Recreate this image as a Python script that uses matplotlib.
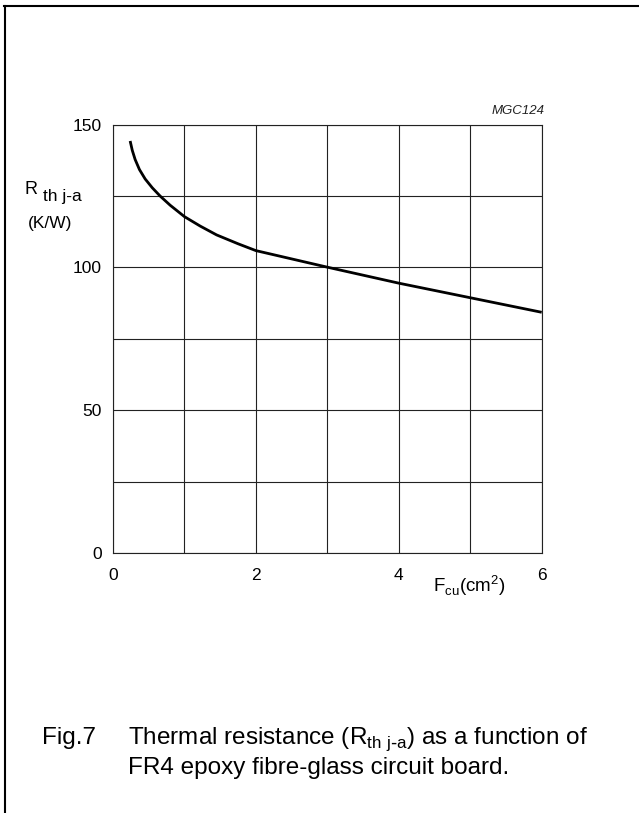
import matplotlib.pyplot as plt
from matplotlib.lines import Line2D

plt.rcParams['font.family'] = ['Liberation Sans', 'DejaVu Sans']

# curve
area_cm2 = [0.24, 0.27, 0.31, 0.37, 0.45, 0.55, 0.66, 0.8, 1.0, 1.22, 1.45, 1.75, 2.0, 3.0, 4.0, 5.0, 6.0]
rth = [144.3, 141.0, 137.8, 134.3, 131.0, 127.9, 125.0, 121.8, 117.8, 114.5, 111.4, 108.3, 105.9, 100.1, 94.5, 89.4, 84.3]

x_ticks = [0, 2, 4, 6]
y_ticks = [0, 50, 100, 150]

W, H = 639, 813


def fx(px):
    return px / W


def fy(py):
    return 1 - py / H


fig = plt.figure(figsize=(W / 100, H / 100), dpi=100)
ax = fig.add_axes([fx(113), fy(553), fx(541.7) - fx(113), fy(124.7) - fy(553)])

ax.plot(area_cm2, rth, color='black', lw=2.0, solid_capstyle='butt', solid_joinstyle='round')

ax.set_xlim(0, 6)
ax.set_ylim(0, 150)
ax.set_xticks(range(7))
ax.set_yticks(range(0, 151, 25))
ax.grid(True, color='#222222', lw=0.8)
ax.tick_params(length=0, labelsize=12.5)
ax.set_xticklabels([str(t) if t in x_ticks else '' for t in range(7)])
ax.set_yticklabels([str(t) if t in y_ticks else '' for t in range(0, 151, 25)])
ax.tick_params(axis='x', pad=11)
ax.tick_params(axis='y', pad=8)
for s in ax.spines.values():
    s.set_linewidth(0.8)
    s.set_color('#222222')

# axis labels
fig.text(fx(24), fy(194), 'R', fontsize=13, va='baseline')
fig.text(fx(43), fy(201), 'th j-a', fontsize=12.5, va='baseline')
fig.text(fx(28), fy(223), '(K/W)', fontsize=12.5, va='center')
fig.text(fx(433), fy(592), r'F$_{\mathregular{cu}}$(cm$^{\mathregular{2}}$)', fontsize=13.5, va='baseline')
fig.text(fx(545), fy(111), 'MGC124', fontsize=9.5, style='italic', ha='right', va='center',
         color='#222222')

# caption
fig.text(fx(42), fy(744), 'Fig.7', fontsize=17.5, va='baseline')
fig.text(fx(128), fy(744), r'Thermal resistance (R$_{\mathregular{th\ j\text{-}a}}$) as a function of',
         fontsize=17.5, va='baseline')
fig.text(fx(128), fy(774), 'FR4 epoxy fibre-glass circuit board.', fontsize=17.5, va='baseline')

# frame lines of the datasheet box
fig.add_artist(Line2D([fx(4), 1], [fy(6), fy(6)], color='black', lw=1.5))
fig.add_artist(Line2D([fx(4.5), fx(4.5)], [fy(6), 0], color='black', lw=1.5))

fig.savefig('out.png', dpi=100)
